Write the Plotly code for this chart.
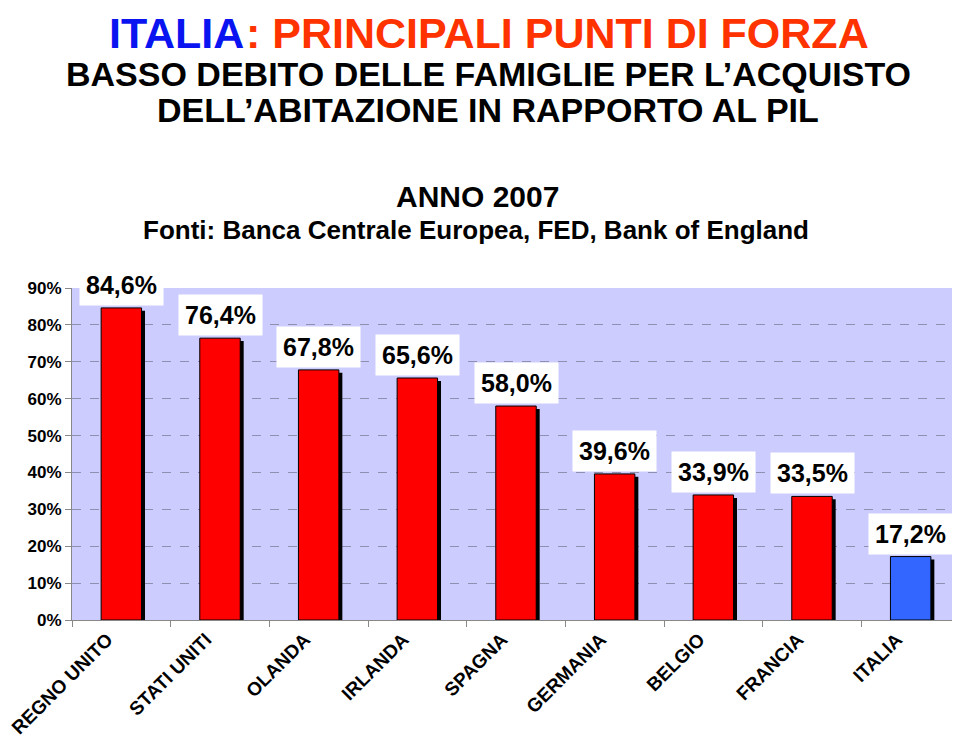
import plotly.graph_objects as go

countries = ["REGNO UNITO", "STATI UNITI", "OLANDA", "IRLANDA", "SPAGNA",
             "GERMANIA", "BELGIO", "FRANCIA", "ITALIA"]
values = [84.6, 76.4, 67.8, 65.6, 58.0, 39.6, 33.9, 33.5, 17.2]
value_labels = ["84,6%", "76,4%", "67,8%", "65,6%", "58,0%", "39,6%", "33,9%", "33,5%", "17,2%"]
bar_colors = ["#FF0000"] * 8 + ["#3366FF"]
y_ticks = [0, 10, 20, 30, 40, 50, 60, 70, 80, 90]
y_tick_labels = ["0%", "10%", "20%", "30%", "40%", "50%", "60%", "70%", "80%", "90%"]

# page is rendered with an 8px body margin
W, H = 952, 734
M_T, M_B, M_L, M_R = 280, 122, 64, 0
PLOT_TOP, PLOT_BOT, PLOT_L, PLOT_R = 288, 620, 72, 960  # page pixels

def py(pix):
    return (PLOT_BOT - pix) / (PLOT_BOT - PLOT_TOP)

def px(pix):
    return (pix - PLOT_L) / (PLOT_R - PLOT_L)

FONT = "Liberation Sans, Arial, sans-serif"
BW = 0.41

fig = go.Figure()
# shadow
fig.add_trace(go.Bar(x=countries, y=values, base=-0.8, width=BW, offset=-BW / 2 + 0.035,
                     marker=dict(color="black", line=dict(width=0)), hoverinfo="skip",
                     showlegend=False))
fig.add_trace(go.Bar(x=countries, y=values, width=BW, offset=-BW / 2,
                     marker=dict(color=bar_colors, line=dict(color="#000000", width=1)),
                     showlegend=False))

for c, v, t in zip(countries, values, value_labels):
    fig.add_annotation(x=c, y=v, xref="x", yref="y", text=t, showarrow=False,
                       yanchor="bottom", yshift=2, bgcolor="white", borderpad=6,
                       font=dict(family=FONT, size=25, color="black", weight="bold"))

# titles
fig.add_annotation(xref="paper", yref="paper", x=px(245), y=py(8), yanchor="top",
                   xanchor="right", text="ITALIA", showarrow=False, borderpad=0,
                   font=dict(family=FONT, size=43, color="#0A14F0", weight="bold"))
fig.add_annotation(xref="paper", yref="paper", x=px(245), y=py(8), yanchor="top",
                   xanchor="left", text=": PRINCIPALI PUNTI DI FORZA", showarrow=False,
                   borderpad=0,
                   font=dict(family=FONT, size=43, color="#FF3300", weight="bold"))
fig.add_annotation(xref="paper", yref="paper", x=px(488), y=py(74), yanchor="middle",
                   text="BASSO DEBITO DELLE FAMIGLIE PER L\u2019ACQUISTO",
                   showarrow=False, font=dict(family=FONT, size=34, color="black", weight="bold"))
fig.add_annotation(xref="paper", yref="paper", x=px(488), y=py(110), yanchor="middle",
                   text="DELL\u2019ABITAZIONE IN RAPPORTO AL PIL",
                   showarrow=False, font=dict(family=FONT, size=34, color="black", weight="bold"))
fig.add_annotation(xref="paper", yref="paper", x=px(477), y=py(197), yanchor="middle",
                   text="ANNO 2007",
                   showarrow=False, font=dict(family=FONT, size=30, color="black", weight="bold"))
fig.add_annotation(xref="paper", yref="paper", x=px(476), y=py(230), yanchor="middle",
                   text="Fonti: Banca Centrale Europea, FED, Bank of England",
                   showarrow=False, font=dict(family=FONT, size=26, color="black", weight="bold"))

fig.update_layout(
    width=W, height=H,
    margin=dict(t=M_T, b=M_B, l=M_L, r=M_R, autoexpand=False),
    paper_bgcolor="white", plot_bgcolor="#CCCCFF",
    barmode="overlay",
    xaxis=dict(tickangle=-45, tickson="boundaries", ticks="outside", ticklen=6,
               tickcolor="#888888", showline=True, linecolor="#888888", linewidth=1,
               showgrid=False, range=[-0.5, 8.5], ticklabelshift=-14,
               tickfont=dict(family=FONT, size=19, color="black", weight="bold")),
    yaxis=dict(range=[0, 90], tickvals=y_ticks, ticktext=y_tick_labels,
               ticks="outside", ticklen=6, tickcolor="#888888", showline=True,
               linecolor="#888888", linewidth=1, showgrid=True, gridcolor="#8F8FB0",
               griddash="dash", gridwidth=1, zeroline=False,
               tickfont=dict(family=FONT, size=17, color="black", weight="bold")),
)

fig.write_html("out.html")
